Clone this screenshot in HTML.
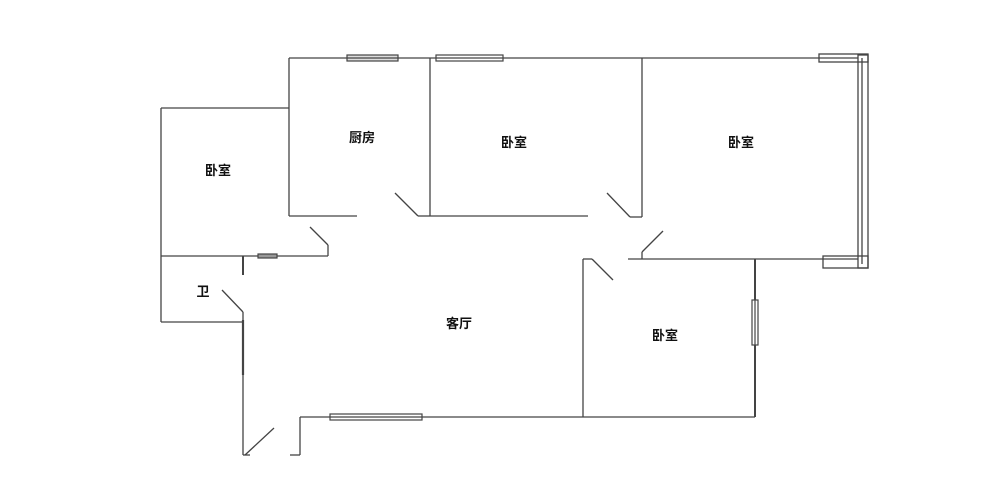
<!DOCTYPE html>
<html><head><meta charset="utf-8"><style>
html,body{margin:0;padding:0;background:#fff;}
svg{display:block;}
text{font-family:"Liberation Sans","Noto Sans CJK SC",sans-serif;font-size:13px;font-weight:bold;fill:#111;text-anchor:middle;}
</style></head><body>
<svg width="1000" height="482" viewBox="0 0 1000 482" xmlns="http://www.w3.org/2000/svg">
<g stroke="#444" stroke-width="1.3" fill="none">
<line x1="289" y1="58" x2="858" y2="58"/>
<line x1="289" y1="58" x2="289" y2="216"/>
<line x1="289" y1="216" x2="357" y2="216"/>
<line x1="430" y1="58" x2="430" y2="216"/>
<line x1="395" y1="193" x2="418" y2="216"/>
<line x1="418" y1="216" x2="430" y2="216"/>
<line x1="161" y1="108" x2="289" y2="108"/>
<line x1="161" y1="108" x2="161" y2="322"/>
<line x1="161" y1="256" x2="328" y2="256"/>
<line x1="310" y1="227" x2="328" y2="245"/>
<line x1="328" y1="245" x2="328" y2="256"/>
<line x1="161" y1="322" x2="243" y2="322"/>
<line x1="222" y1="290" x2="243" y2="312"/>
<line x1="243" y1="256" x2="243" y2="275" stroke-width="2"/>
<line x1="243" y1="312" x2="243" y2="455"/>
<line x1="243" y1="320" x2="243" y2="375" stroke-width="2.2"/>
<line x1="245" y1="455" x2="274" y2="428"/>
<line x1="243" y1="455" x2="250" y2="455"/>
<line x1="290" y1="455" x2="300" y2="455"/>
<line x1="300" y1="455" x2="300" y2="417"/>
<line x1="300" y1="417" x2="755" y2="417"/>
<line x1="430" y1="216" x2="588" y2="216"/>
<line x1="642" y1="58" x2="642" y2="217"/>
<line x1="607" y1="193" x2="630" y2="217"/>
<line x1="630" y1="217" x2="642" y2="217"/>
<line x1="628" y1="259" x2="858" y2="259"/>
<line x1="642" y1="259" x2="642" y2="252"/>
<line x1="642" y1="252" x2="663" y2="231"/>
<rect x="858" y="55" width="10" height="213"/>
<line x1="862" y1="58" x2="862" y2="264"/>
<rect x="819" y="54" width="49" height="8"/>
<rect x="823" y="256" width="45" height="12"/>
<line x1="583" y1="259" x2="583" y2="417"/>
<line x1="583" y1="259" x2="592" y2="259"/>
<line x1="592" y1="259" x2="613" y2="280"/>
<line x1="755" y1="259" x2="755" y2="417" stroke-width="2"/>
</g>
<g stroke="#444" stroke-width="1.2" fill="#fff">
<rect x="347" y="55" width="51" height="6" fill="#ddd"/>
<line x1="347" y1="58" x2="398" y2="58"/>
<rect x="436" y="55" width="67" height="6"/>
<line x1="436" y1="58" x2="503" y2="58"/>
<rect x="258" y="254" width="19" height="4" fill="#999"/>
<rect x="330" y="414" width="92" height="6"/>
<line x1="330" y1="417" x2="422" y2="417"/>
<rect x="752" y="300" width="6" height="45"/>
<line x1="755" y1="300" x2="755" y2="345"/>
</g>
<text x="218" y="175">卧室</text>
<text x="362" y="142">厨房</text>
<text x="514" y="147">卧室</text>
<text x="741" y="147">卧室</text>
<text x="459" y="328">客厅</text>
<text x="665" y="340">卧室</text>
<text x="203" y="296">卫</text>
</svg>
</body></html>
